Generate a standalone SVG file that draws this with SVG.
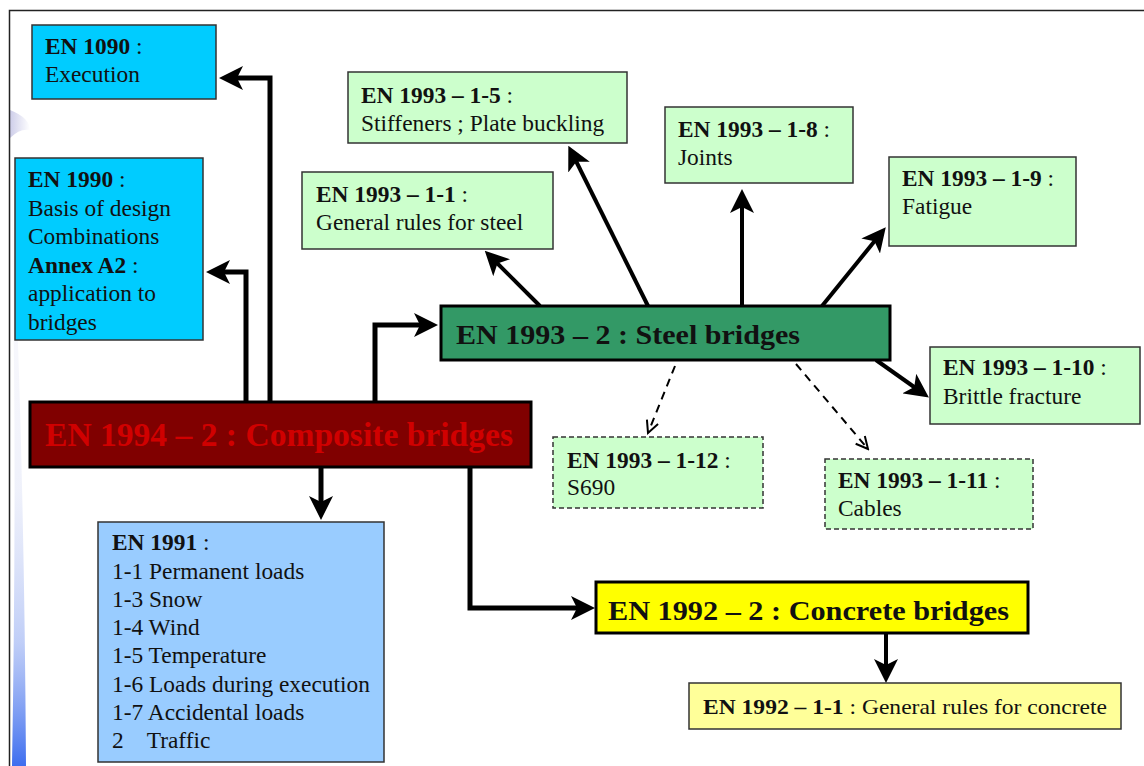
<svg xmlns="http://www.w3.org/2000/svg" width="1144" height="766" viewBox="0 0 1144 766">
<defs>
<style>
text{font-family:"Liberation Serif","Times New Roman",serif;fill:#111;}
.t{font-size:23.4px;}
.b{font-weight:bold;}
.box{stroke:#333;stroke-width:1.5;}
.dash{stroke:#333;stroke-width:1.5;stroke-dasharray:5,3;}
.cyan{fill:#00ccff;}
.green{fill:#ccffcc;}
.c1{fill:none;stroke:#000;stroke-width:5;marker-end:url(#ah);}
.c2{fill:none;stroke:#000;stroke-width:4;marker-end:url(#ah);}
.c3{fill:none;stroke:#000;stroke-width:2;stroke-dasharray:8,6;marker-end:url(#oh);}
</style>
<marker id="ah" markerUnits="userSpaceOnUse" markerWidth="24" markerHeight="24" viewBox="0 0 24 24" refX="18" refY="12" orient="auto"><path d="M0,0 L24,12 L0,24 L6,12 z" fill="#000"/></marker>
<marker id="oh" markerUnits="userSpaceOnUse" markerWidth="16" markerHeight="16" viewBox="0 0 16 16" refX="14" refY="8" orient="auto"><path d="M2,2 L14,8 L2,14" fill="none" stroke="#000" stroke-width="2"/></marker>
<linearGradient id="sw" x1="0" y1="0" x2="0" y2="1">
<stop offset="0" stop-color="#c8c8e8" stop-opacity="0"/>
<stop offset="0.55" stop-color="#c0c8ee" stop-opacity="0.25"/>
<stop offset="0.8" stop-color="#7f9cf0" stop-opacity="0.5"/>
<stop offset="1" stop-color="#3366ee" stop-opacity="0.95"/>
</linearGradient>
<linearGradient id="sw2" x1="0" y1="0" x2="1" y2="0">
<stop offset="0" stop-color="#b8b8e0" stop-opacity="0.7"/>
<stop offset="1" stop-color="#b8b8e0" stop-opacity="0"/>
</linearGradient>
</defs>
<rect width="1144" height="766" fill="#fff"/>
<path d="M10,110 Q30,118 30,130 Q20,128 10,138 z" fill="url(#sw2)"/>
<path d="M10,150 Q18,420 12,766 L26,766 Q24,430 10,150 z" fill="url(#sw)"/>
<path d="M9.5,766 V10.5 H1144" fill="none" stroke="#222" stroke-width="1.5"/>

<g id="connectors">
<path class="c1" d="M270,403 V78 H225"/>
<path class="c1" d="M246,403 V272 H212"/>
<path class="c1" d="M375,403 V325 H432"/>
<path class="c1" d="M321,468 V514"/>
<path class="c1" d="M470,468 V608 H589"/>
<path class="c2" d="M540,306 L489,255"/>
<path class="c2" d="M648,306 L571,151"/>
<path class="c2" d="M742,306 V195"/>
<path class="c2" d="M822,306 L882,232"/>
<path class="c2" d="M876,360 L924,394"/>
<path class="c2" d="M886,634 V677"/>
<path class="c3" d="M675,366 L648,433"/>
<path class="c3" d="M796,364 L868,449"/>
</g>

<g id="en1090">
<rect class="box cyan" x="32" y="25" width="184" height="74"/>
<text class="t" x="45" y="54"><tspan class="b">EN 1090</tspan> :</text>
<text class="t" x="45" y="82">Execution</text>
</g>

<g id="en1990">
<rect class="box cyan" x="15" y="158" width="188" height="182"/>
<text class="t" x="28" y="187"><tspan class="b">EN 1990</tspan> :</text>
<text class="t" x="28" y="215.5">Basis of design</text>
<text class="t" x="28" y="244">Combinations</text>
<text class="t" x="28" y="272.5"><tspan class="b">Annex A2</tspan> :</text>
<text class="t" x="28" y="301">application to</text>
<text class="t" x="28" y="329.5">bridges</text>
</g>

<g id="en1994-2">
<rect x="30" y="402" width="501" height="65" fill="#800000" stroke="#000" stroke-width="3"/>
<text x="45" y="446" font-size="33" font-weight="bold" style="fill:#d00000" textLength="468" lengthAdjust="spacingAndGlyphs">EN 1994 – 2 : Composite bridges</text>
</g>

<g id="en1993-2">
<rect x="441" y="306" width="449" height="54" fill="#339966" stroke="#000" stroke-width="3"/>
<text x="456" y="344" font-size="28" font-weight="bold" textLength="344" lengthAdjust="spacingAndGlyphs">EN 1993 – 2 : Steel bridges</text>
</g>

<g id="en1993-1-1">
<rect class="box green" x="302" y="172" width="251" height="77"/>
<text class="t" x="316" y="202"><tspan class="b">EN 1993 – 1-1</tspan> :</text>
<text class="t" x="316" y="230">General rules for steel</text>
</g>

<g id="en1993-1-5">
<rect class="box green" x="348" y="72" width="279" height="71"/>
<text class="t" x="361" y="103"><tspan class="b">EN 1993 – 1-5</tspan> :</text>
<text class="t" x="361" y="131">Stiffeners ; Plate buckling</text>
</g>

<g id="en1993-1-8">
<rect class="box green" x="665" y="107" width="188" height="76"/>
<text class="t" x="678" y="137"><tspan class="b">EN 1993 – 1-8</tspan> :</text>
<text class="t" x="678" y="165">Joints</text>
</g>

<g id="en1993-1-9">
<rect class="box green" x="889" y="157" width="187" height="89"/>
<text class="t" x="902" y="186"><tspan class="b">EN 1993 – 1-9</tspan> :</text>
<text class="t" x="902" y="214">Fatigue</text>
</g>

<g id="en1993-1-10">
<rect class="box green" x="930" y="347" width="210" height="77"/>
<text class="t" x="943" y="375"><tspan class="b">EN 1993 – 1-10</tspan> :</text>
<text class="t" x="943" y="404">Brittle fracture</text>
</g>

<g id="en1993-1-12">
<rect class="dash green" x="553" y="437" width="210" height="71"/>
<text class="t" x="567" y="468"><tspan class="b">EN 1993 – 1-12</tspan> :</text>
<text class="t" x="567" y="495">S690</text>
</g>

<g id="en1993-1-11">
<rect class="dash green" x="825" y="459" width="208" height="70"/>
<text class="t" x="838" y="488"><tspan class="b">EN 1993 – 1-11</tspan> :</text>
<text class="t" x="838" y="516">Cables</text>
</g>

<g id="en1991">
<rect class="box" x="98" y="522" width="286" height="240" fill="#99ccff"/>
<text class="t" x="112" y="550"><tspan class="b">EN 1991</tspan> :</text>
<text class="t" x="112" y="578.5">1-1 Permanent loads</text>
<text class="t" x="112" y="606.5">1-3 Snow</text>
<text class="t" x="112" y="634.5">1-4 Wind</text>
<text class="t" x="112" y="663">1-5 Temperature</text>
<text class="t" x="112" y="691.5">1-6 Loads during execution</text>
<text class="t" x="112" y="719.5">1-7 Accidental loads</text>
<text class="t" x="112" y="747.5" xml:space="preserve">2    Traffic</text>
</g>

<g id="en1992-2">
<rect x="596" y="582" width="432" height="51" fill="#ffff00" stroke="#000" stroke-width="3"/>
<text x="608" y="620" font-size="28" font-weight="bold" textLength="401" lengthAdjust="spacingAndGlyphs">EN 1992 – 2 : Concrete bridges</text>
</g>

<g id="en1992-1-1">
<rect class="box" x="689" y="683" width="432" height="46" fill="#ffff99"/>
<text x="703" y="714" font-size="22" textLength="404" lengthAdjust="spacingAndGlyphs"><tspan class="b">EN 1992 – 1-1</tspan> : General rules for concrete</text>
</g>
</svg>
